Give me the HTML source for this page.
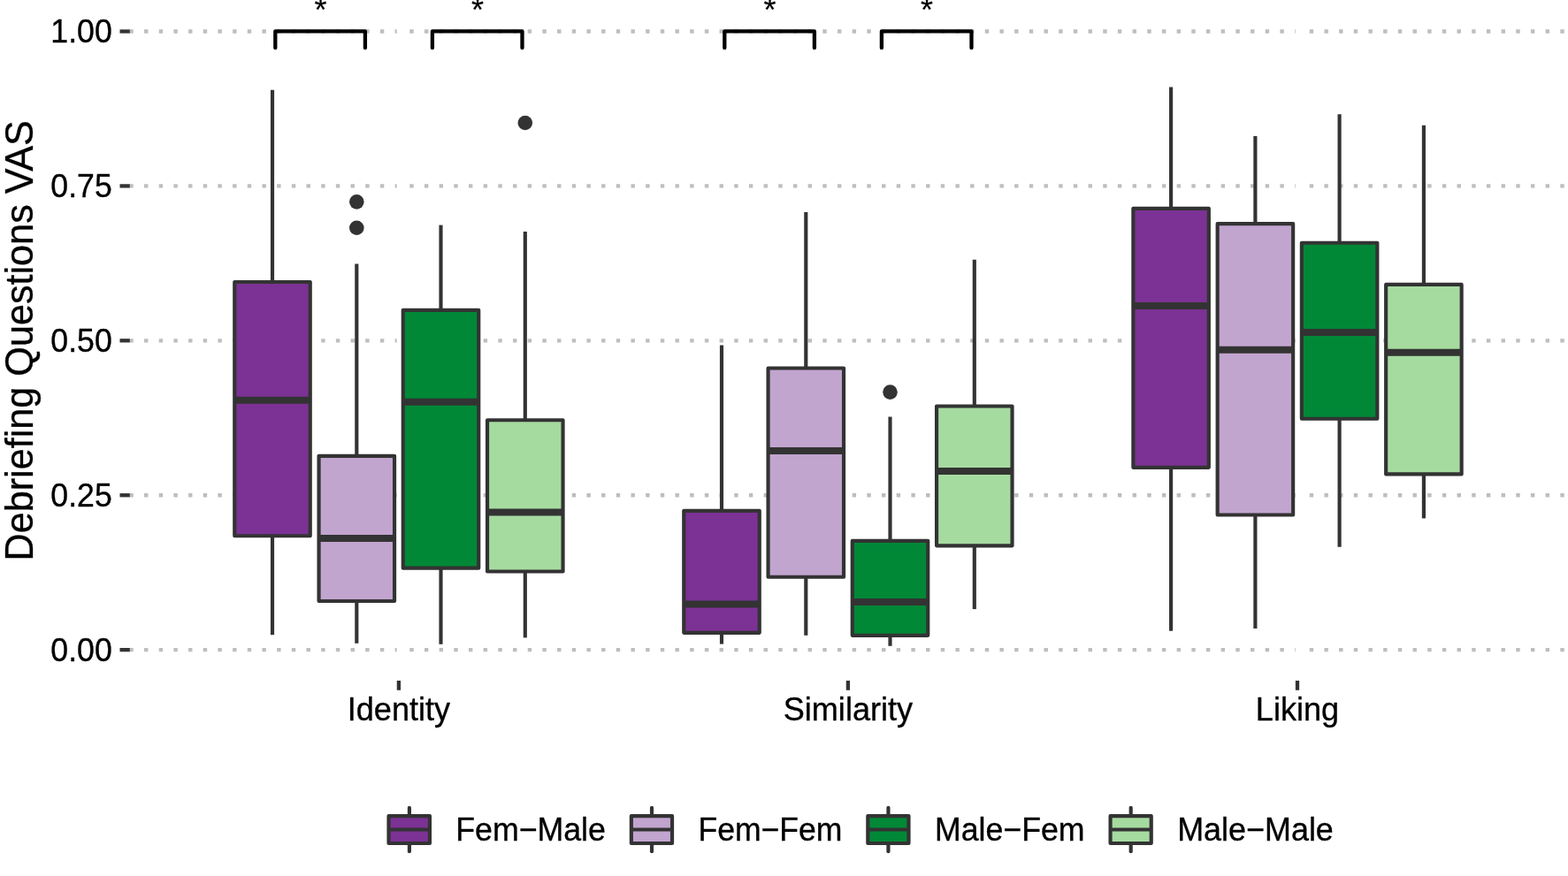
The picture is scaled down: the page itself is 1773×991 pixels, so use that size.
<!DOCTYPE html>
<html lang="en"><head><meta charset="utf-8"><title>Debriefing Questions VAS</title>
<style>html,body{margin:0;padding:0;background:#fff;}body{width:1773px;height:991px;overflow:hidden;}svg{display:block;}text{font-family:"Liberation Sans",sans-serif;stroke:#000;stroke-width:0.35px;stroke-linejoin:round;}</style>
</head><body>
<svg width="1773" height="991" viewBox="0 0 1773 991">
<rect x="0" y="0" width="1773" height="991" fill="#ffffff"/>
<g stroke="#BEBEBE" stroke-width="4.30" stroke-dasharray="4.4 12.28" fill="none">
<line x1="146.35" y1="35.50" x2="1771.80" y2="35.50"/>
<line x1="146.35" y1="210.40" x2="1771.80" y2="210.40"/>
<line x1="146.35" y1="385.30" x2="1771.80" y2="385.30"/>
<line x1="146.35" y1="560.25" x2="1771.80" y2="560.25"/>
<line x1="146.35" y1="735.15" x2="1771.80" y2="735.15"/>
</g>
<g stroke="#ffffff" stroke-width="4.4" fill="none">
<line x1="450.90" y1="0" x2="450.90" y2="770"/>
<line x1="958.90" y1="0" x2="958.90" y2="770"/>
<line x1="1467.00" y1="0" x2="1467.00" y2="770"/>
</g>
<g stroke="#333333" stroke-width="4.15" stroke-linejoin="round">
<line x1="308.00" y1="101.80" x2="308.00" y2="319.00"/>
<line x1="308.00" y1="606.20" x2="308.00" y2="718.20"/>
<rect x="265.25" y="319.00" width="85.50" height="287.20" fill="#7B3294"/>
<line x1="265.25" y1="452.80" x2="350.75" y2="452.80" stroke-width="8.00"/>
<circle cx="403.30" cy="228.35" r="8.3" fill="#333333" stroke="none"/>
<circle cx="403.30" cy="257.75" r="8.3" fill="#333333" stroke="none"/>
<line x1="403.30" y1="298.40" x2="403.30" y2="515.80"/>
<line x1="403.30" y1="680.00" x2="403.30" y2="727.80"/>
<rect x="360.55" y="515.80" width="85.50" height="164.20" fill="#C2A5CF"/>
<line x1="360.55" y1="609.00" x2="446.05" y2="609.00" stroke-width="8.00"/>
<line x1="498.50" y1="254.60" x2="498.50" y2="350.80"/>
<line x1="498.50" y1="642.70" x2="498.50" y2="728.80"/>
<rect x="455.75" y="350.80" width="85.50" height="291.90" fill="#008837"/>
<line x1="455.75" y1="454.80" x2="541.25" y2="454.80" stroke-width="8.00"/>
<circle cx="593.80" cy="139.00" r="8.3" fill="#333333" stroke="none"/>
<line x1="593.80" y1="262.00" x2="593.80" y2="475.20"/>
<line x1="593.80" y1="646.50" x2="593.80" y2="721.40"/>
<rect x="551.05" y="475.20" width="85.50" height="171.30" fill="#A6DBA0"/>
<line x1="551.05" y1="579.60" x2="636.55" y2="579.60" stroke-width="8.00"/>
<line x1="816.00" y1="390.40" x2="816.00" y2="577.80"/>
<line x1="816.00" y1="715.80" x2="816.00" y2="728.60"/>
<rect x="773.25" y="577.80" width="85.50" height="138.00" fill="#7B3294"/>
<line x1="773.25" y1="683.40" x2="858.75" y2="683.40" stroke-width="8.00"/>
<line x1="911.30" y1="240.00" x2="911.30" y2="416.50"/>
<line x1="911.30" y1="652.70" x2="911.30" y2="718.80"/>
<rect x="868.55" y="416.50" width="85.50" height="236.20" fill="#C2A5CF"/>
<line x1="868.55" y1="510.00" x2="954.05" y2="510.00" stroke-width="8.00"/>
<circle cx="1006.50" cy="443.60" r="8.3" fill="#333333" stroke="none"/>
<line x1="1006.50" y1="471.50" x2="1006.50" y2="611.80"/>
<line x1="1006.50" y1="718.80" x2="1006.50" y2="730.80"/>
<rect x="963.75" y="611.80" width="85.50" height="107.00" fill="#008837"/>
<line x1="963.75" y1="681.10" x2="1049.25" y2="681.10" stroke-width="8.00"/>
<line x1="1101.80" y1="293.70" x2="1101.80" y2="459.50"/>
<line x1="1101.80" y1="617.30" x2="1101.80" y2="689.10"/>
<rect x="1059.05" y="459.50" width="85.50" height="157.80" fill="#A6DBA0"/>
<line x1="1059.05" y1="533.00" x2="1144.55" y2="533.00" stroke-width="8.00"/>
<line x1="1324.10" y1="98.40" x2="1324.10" y2="235.80"/>
<line x1="1324.10" y1="528.80" x2="1324.10" y2="713.80"/>
<rect x="1281.35" y="235.80" width="85.50" height="293.00" fill="#7B3294"/>
<line x1="1281.35" y1="346.00" x2="1366.85" y2="346.00" stroke-width="8.00"/>
<line x1="1419.40" y1="153.90" x2="1419.40" y2="253.10"/>
<line x1="1419.40" y1="582.50" x2="1419.40" y2="711.00"/>
<rect x="1376.65" y="253.10" width="85.50" height="329.40" fill="#C2A5CF"/>
<line x1="1376.65" y1="395.80" x2="1462.15" y2="395.80" stroke-width="8.00"/>
<line x1="1514.60" y1="129.30" x2="1514.60" y2="274.70"/>
<line x1="1514.60" y1="473.70" x2="1514.60" y2="618.70"/>
<rect x="1471.85" y="274.70" width="85.50" height="199.00" fill="#008837"/>
<line x1="1471.85" y1="375.90" x2="1557.35" y2="375.90" stroke-width="8.00"/>
<line x1="1609.90" y1="141.70" x2="1609.90" y2="321.90"/>
<line x1="1609.90" y1="536.40" x2="1609.90" y2="586.40"/>
<rect x="1567.15" y="321.90" width="85.50" height="214.50" fill="#A6DBA0"/>
<line x1="1567.15" y1="398.80" x2="1652.65" y2="398.80" stroke-width="8.00"/>
</g>
<g stroke="#000000" stroke-width="4.3" fill="none" stroke-linecap="round" stroke-linejoin="round">
<path d="M311.30 54.2 L311.30 35.4 L412.90 35.4 L412.90 54.2"/>
<path d="M488.90 54.2 L488.90 35.4 L590.50 35.4 L590.50 54.2"/>
<path d="M819.30 54.2 L819.30 35.4 L920.90 35.4 L920.90 54.2"/>
<path d="M996.90 54.2 L996.90 35.4 L1098.50 35.4 L1098.50 54.2"/>
</g>
<g font-size="36.00" fill="#000000" text-anchor="middle">
<text x="362.40" y="23.9" style="stroke-width:0.2px">*</text>
<text x="540.00" y="23.9" style="stroke-width:0.2px">*</text>
<text x="870.40" y="23.9" style="stroke-width:0.2px">*</text>
<text x="1048.00" y="23.9" style="stroke-width:0.2px">*</text>
</g>
<g stroke="#333333" stroke-width="4.30" fill="none">
<line x1="135.5" y1="35.50" x2="146.8" y2="35.50"/>
<line x1="135.5" y1="210.40" x2="146.8" y2="210.40"/>
<line x1="135.5" y1="385.30" x2="146.8" y2="385.30"/>
<line x1="135.5" y1="560.25" x2="146.8" y2="560.25"/>
<line x1="135.5" y1="735.15" x2="146.8" y2="735.15"/>
<line x1="450.90" y1="770" x2="450.90" y2="780.8"/>
<line x1="958.90" y1="770" x2="958.90" y2="780.8"/>
<line x1="1467.00" y1="770" x2="1467.00" y2="780.8"/>
</g>
<g font-size="36.20" fill="#000000" text-anchor="end">
<text transform="translate(126.7 48.10) scale(0.985 1)">1.00</text>
<text transform="translate(126.7 223.00) scale(0.985 1)">0.75</text>
<text transform="translate(126.7 397.90) scale(0.985 1)">0.50</text>
<text transform="translate(126.7 572.85) scale(0.985 1)">0.25</text>
<text transform="translate(126.7 747.75) scale(0.985 1)">0.00</text>
</g>
<g font-size="36.10" fill="#000000" text-anchor="middle">
<text x="450.90" y="814.8">Identity</text>
<text x="958.90" y="814.8">Similarity</text>
<text x="1467.00" y="814.8">Liking</text>
</g>
<text font-size="43.20" fill="#000000" text-anchor="middle" transform="translate(36.95 385.3) rotate(-90) scale(1 1.022)">Debriefing Questions VAS</text>
<g stroke="#333333" stroke-width="4.15" stroke-linejoin="round" stroke-linecap="round">
<line x1="462.90" y1="913.7" x2="462.90" y2="923" />
<line x1="462.90" y1="954" x2="462.90" y2="963.2" />
<rect x="439.50" y="923.1" width="46.45" height="30.9" fill="#7B3294"/>
<line x1="439.50" y1="938.5" x2="485.95" y2="938.5" stroke-linecap="butt"/>
<line x1="737.00" y1="913.7" x2="737.00" y2="923" />
<line x1="737.00" y1="954" x2="737.00" y2="963.2" />
<rect x="713.85" y="923.1" width="46.20" height="30.9" fill="#C2A5CF"/>
<line x1="713.85" y1="938.5" x2="760.05" y2="938.5" stroke-linecap="butt"/>
<line x1="1004.45" y1="913.7" x2="1004.45" y2="923" />
<line x1="1004.45" y1="954" x2="1004.45" y2="963.2" />
<rect x="981.30" y="923.1" width="46.20" height="30.9" fill="#008837"/>
<line x1="981.30" y1="938.5" x2="1027.50" y2="938.5" stroke-linecap="butt"/>
<line x1="1278.70" y1="913.7" x2="1278.70" y2="923" />
<line x1="1278.70" y1="954" x2="1278.70" y2="963.2" />
<rect x="1255.55" y="923.1" width="46.20" height="30.9" fill="#A6DBA0"/>
<line x1="1255.55" y1="938.5" x2="1301.75" y2="938.5" stroke-linecap="butt"/>
</g>
<g font-size="36.20" fill="#000000">
<text transform="translate(515.20 951) scale(0.9870 1)">Fem−Male</text>
<text transform="translate(789.50 951) scale(0.9820 1)">Fem−Fem</text>
<text transform="translate(1056.90 951) scale(0.9870 1)">Male−Fem</text>
<text transform="translate(1331.20 951) scale(0.9924 1)">Male−Male</text>
</g>
</svg>
</body></html>
